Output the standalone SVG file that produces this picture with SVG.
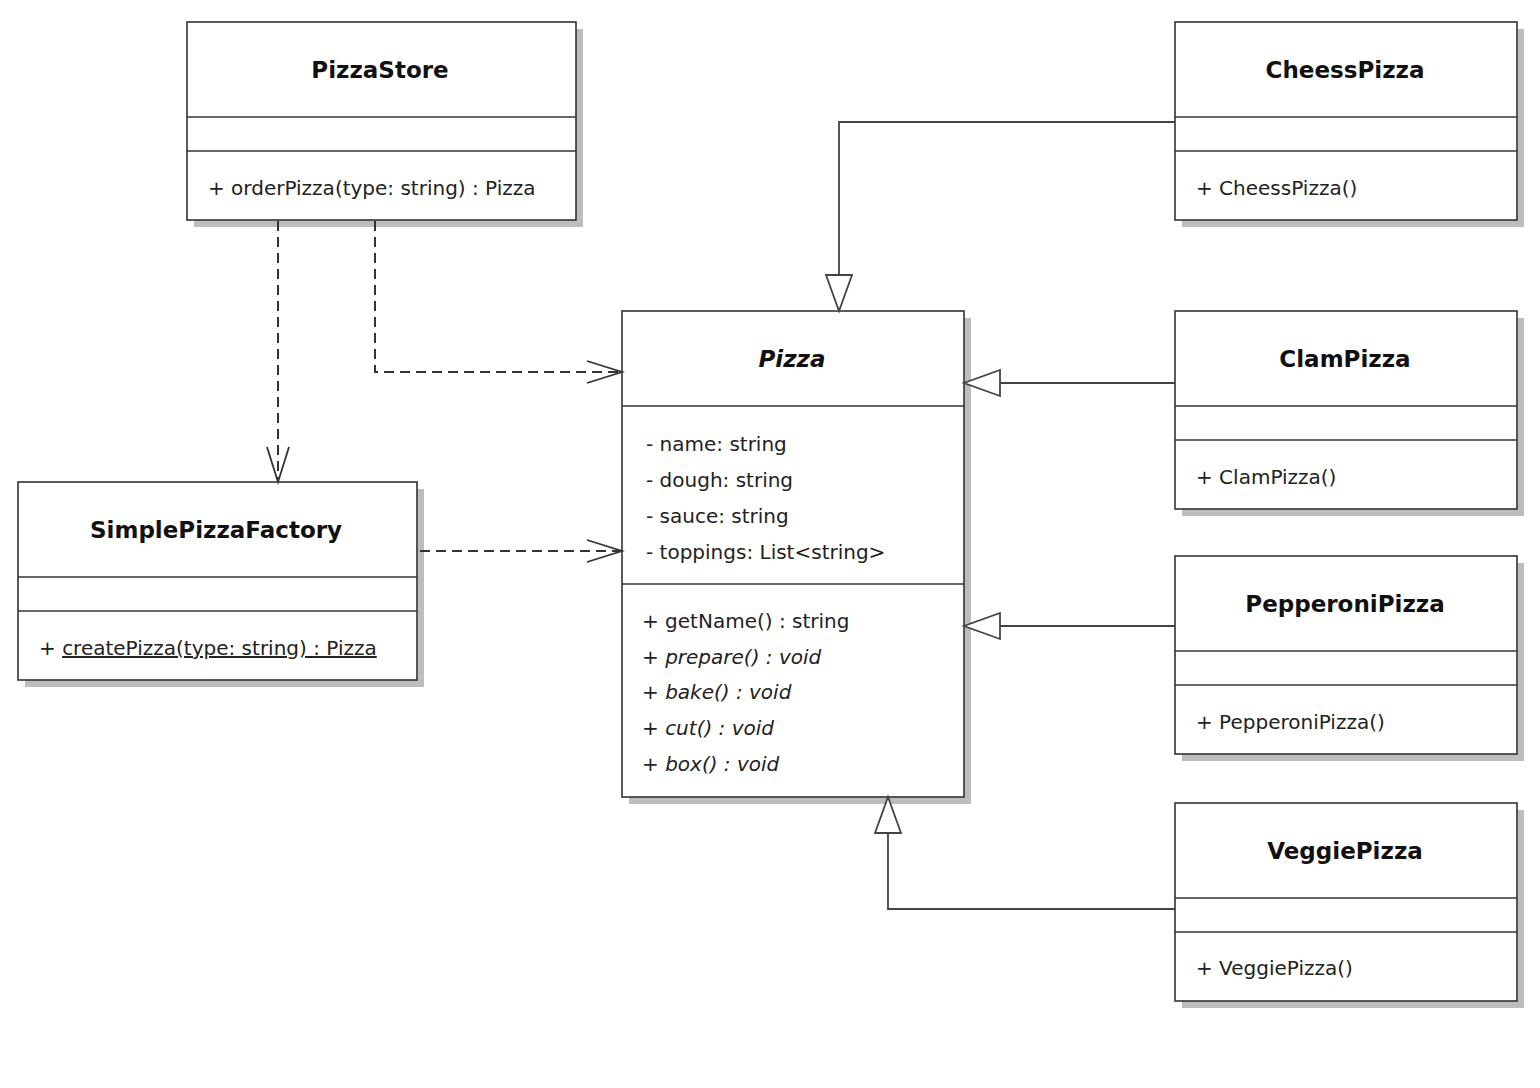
<svg xmlns="http://www.w3.org/2000/svg" width="1540" height="1088" viewBox="0 0 1540 1088">
<style>
  .shadow { fill: #bdbdbd; }
  .box { fill: #ffffff; stroke: #333333; stroke-width: 1.6; }
  .div { stroke: #333333; stroke-width: 1.4; }
  .title { font-family: "DejaVu Sans", sans-serif; font-weight: bold; font-size: 23px; fill: #111111; text-anchor: middle; }
  .txt { font-family: "DejaVu Sans", sans-serif; font-size: 20px; fill: #222222; }
  .it { font-style: italic; }
  .gen { fill: none; stroke: #444444; stroke-width: 1.8; }
  .dep { fill: none; stroke: #333333; stroke-width: 2; stroke-dasharray: 10 6; }
</style>
<defs>
  <marker id="tri" markerUnits="userSpaceOnUse" markerWidth="40" markerHeight="30" refX="37" refY="14" orient="auto">
    <path d="M1,1 L37,14 L1,27 Z" fill="#ffffff" stroke="#444444" stroke-width="1.8" stroke-dasharray="none"/>
  </marker>
  <marker id="open" markerUnits="userSpaceOnUse" markerWidth="40" markerHeight="28" refX="36" refY="12" orient="auto">
    <path d="M1,1 L36,12 L1,23" fill="none" stroke="#333333" stroke-width="1.8" stroke-dasharray="none"/>
  </marker>
</defs>
<rect width="1540" height="1088" fill="#ffffff"/>

<g id="PizzaStore">
  <rect class="shadow" x="194" y="29" width="389" height="198"/>
  <rect class="box" x="187" y="22" width="389" height="198"/>
  <line class="div" x1="187" y1="117" x2="576" y2="117"/>
  <line class="div" x1="187" y1="151" x2="576" y2="151"/>
  <text class="title" x="380" y="78">PizzaStore</text>
  <text class="txt" x="208" y="195">+ orderPizza(type: string) : Pizza</text>
</g>

<g id="SimplePizzaFactory">
  <rect class="shadow" x="25" y="489" width="399" height="198"/>
  <rect class="box" x="18" y="482" width="399" height="198"/>
  <line class="div" x1="18" y1="577" x2="417" y2="577"/>
  <line class="div" x1="18" y1="611" x2="417" y2="611"/>
  <text class="title" x="216" y="538">SimplePizzaFactory</text>
  <text class="txt" x="39" y="655">+ <tspan text-decoration="underline">createPizza(type: string) : Pizza</tspan></text>
</g>

<g id="Pizza">
  <rect class="shadow" x="629" y="318" width="342" height="486"/>
  <rect class="box" x="622" y="311" width="342" height="486"/>
  <line class="div" x1="622" y1="406" x2="964" y2="406"/>
  <line class="div" x1="622" y1="584" x2="964" y2="584"/>
  <text class="title it" x="792" y="367">Pizza</text>
  <text class="txt" x="646" y="451">- name: string</text>
  <text class="txt" x="646" y="487">- dough: string</text>
  <text class="txt" x="646" y="523">- sauce: string</text>
  <text class="txt" x="646" y="559">- toppings: List&lt;string&gt;</text>
  <text class="txt" x="642" y="628">+ getName() : string</text>
  <text class="txt" x="642" y="664">+ <tspan class="it">prepare() : void</tspan></text>
  <text class="txt" x="642" y="699">+ <tspan class="it">bake() : void</tspan></text>
  <text class="txt" x="642" y="735">+ <tspan class="it">cut() : void</tspan></text>
  <text class="txt" x="642" y="771">+ <tspan class="it">box() : void</tspan></text>
</g>

<g id="CheessPizza">
  <rect class="shadow" x="1182" y="29" width="342" height="198"/>
  <rect class="box" x="1175" y="22" width="342" height="198"/>
  <line class="div" x1="1175" y1="117" x2="1517" y2="117"/>
  <line class="div" x1="1175" y1="151" x2="1517" y2="151"/>
  <text class="title" x="1345" y="78">CheessPizza</text>
  <text class="txt" x="1196" y="195">+ CheessPizza()</text>
</g>

<g id="ClamPizza">
  <rect class="shadow" x="1182" y="318" width="342" height="198"/>
  <rect class="box" x="1175" y="311" width="342" height="198"/>
  <line class="div" x1="1175" y1="406" x2="1517" y2="406"/>
  <line class="div" x1="1175" y1="440" x2="1517" y2="440"/>
  <text class="title" x="1345" y="367">ClamPizza</text>
  <text class="txt" x="1196" y="484">+ ClamPizza()</text>
</g>

<g id="PepperoniPizza">
  <rect class="shadow" x="1182" y="563" width="342" height="198"/>
  <rect class="box" x="1175" y="556" width="342" height="198"/>
  <line class="div" x1="1175" y1="651" x2="1517" y2="651"/>
  <line class="div" x1="1175" y1="685" x2="1517" y2="685"/>
  <text class="title" x="1345" y="612">PepperoniPizza</text>
  <text class="txt" x="1196" y="729">+ PepperoniPizza()</text>
</g>

<g id="VeggiePizza">
  <rect class="shadow" x="1182" y="810" width="342" height="198"/>
  <rect class="box" x="1175" y="803" width="342" height="198"/>
  <line class="div" x1="1175" y1="898" x2="1517" y2="898"/>
  <line class="div" x1="1175" y1="932" x2="1517" y2="932"/>
  <text class="title" x="1345" y="859">VeggiePizza</text>
  <text class="txt" x="1196" y="975">+ VeggiePizza()</text>
</g>

<g id="connectors">
  <path class="dep" d="M278,221 L278,482" marker-end="url(#open)"/>
  <path class="dep" d="M375,221 L375,372 L622,372" marker-end="url(#open)"/>
  <path class="dep" d="M420,551 L622,551" marker-end="url(#open)"/>
  <path class="gen" d="M1175,122 L839,122 L839,311" marker-end="url(#tri)"/>
  <path class="gen" d="M1175,383 L964,383" marker-end="url(#tri)"/>
  <path class="gen" d="M1175,626 L964,626" marker-end="url(#tri)"/>
  <path class="gen" d="M1175,909 L888,909 L888,797" marker-end="url(#tri)"/>
</g>
</svg>
